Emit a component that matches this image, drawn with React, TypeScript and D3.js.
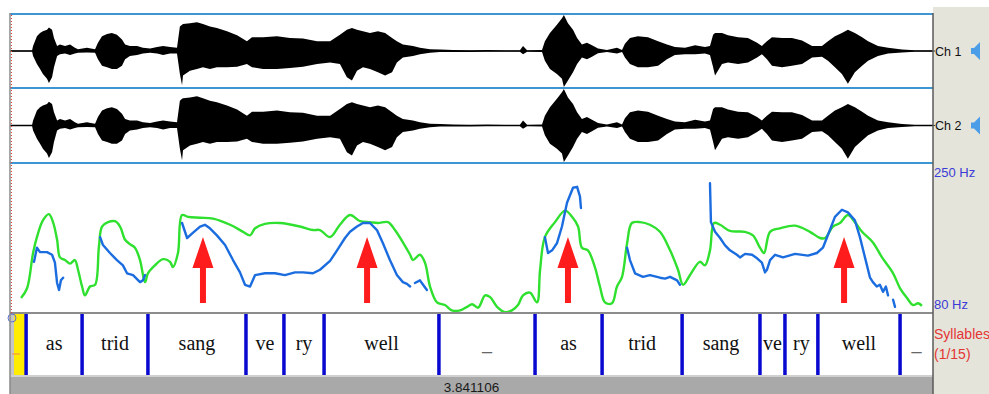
import React, { useEffect, useRef } from 'react';
import * as d3 from 'd3';

// Sound + pitch + syllable tier view (Praat-like)
const DURATION = 3.841106;
const channelNames = ['Ch 1', 'Ch 2'];
const pitchRange = [80, 250];

// waveform envelope: [time (s), upper amplitude, lower amplitude], amplitudes relative to full scale
const envelope: [number, number, number][] = [
  [0, 0.02, 0.02], [0.092, 0.02, 0.02], [0.096, 0.14, 0.14], [0.112, 0.41, 0.36], [0.125, 0.5, 0.5],
  [0.137, 0.55, 0.64], [0.154, 0.59, 0.77], [0.162, 0.65, 0.89], [0.175, 0.59, 0.73], [0.183, 0.36, 0.45],
  [0.196, 0.14, 0.14], [0.208, 0.18, 0.09], [0.229, 0.14, 0.07], [0.25, 0.18, 0.11], [0.27, 0.09, 0.07],
  [0.283, 0.05, 0.05], [0.32, 0.09, 0.04], [0.354, 0.05, 0.05], [0.366, 0.23, 0.23], [0.383, 0.41, 0.41],
  [0.404, 0.47, 0.45], [0.424, 0.5, 0.5], [0.445, 0.45, 0.5], [0.466, 0.32, 0.41], [0.479, 0.18, 0.23],
  [0.499, 0.14, 0.14], [0.529, 0.14, 0.11], [0.553, 0.09, 0.07], [0.583, 0.07, 0.05], [0.612, 0.11, 0.07],
  [0.637, 0.14, 0.11], [0.666, 0.11, 0.07], [0.695, 0.09, 0.07], [0.707, 0.68, 0.64], [0.716, 0.73, 0.95],
  [0.72, 0.75, 0.68], [0.749, 0.77, 0.55], [0.778, 0.8, 0.5], [0.803, 0.75, 0.45], [0.832, 0.68, 0.5],
  [0.861, 0.64, 0.45], [0.903, 0.55, 0.45], [0.945, 0.44, 0.44], [0.986, 0.27, 0.36], [1.007, 0.38, 0.45],
  [1.053, 0.38, 0.5], [1.111, 0.41, 0.5], [1.165, 0.36, 0.47], [1.219, 0.35, 0.44], [1.278, 0.27, 0.36],
  [1.332, 0.27, 0.32], [1.373, 0.45, 0.36], [1.402, 0.59, 0.73], [1.423, 0.64, 0.82], [1.444, 0.59, 0.55],
  [1.469, 0.55, 0.45], [1.498, 0.5, 0.5], [1.531, 0.55, 0.59], [1.561, 0.5, 0.68], [1.59, 0.36, 0.59],
  [1.61, 0.27, 0.32], [1.635, 0.18, 0.18], [1.677, 0.14, 0.14], [1.706, 0.09, 0.09], [1.748, 0.05, 0.05],
  [1.789, 0.04, 0.03], [1.844, 0.03, 0.03], [1.914, 0.02, 0.03], [1.985, 0.03, 0.02], [2.06, 0.02, 0.02],
  [2.122, 0.02, 0.02], [2.135, 0.14, 0.09], [2.152, 0.02, 0.02], [2.214, 0.03, 0.03], [2.226, 0.27, 0.27],
  [2.247, 0.5, 0.5], [2.276, 0.73, 0.64], [2.297, 0.91, 0.77], [2.305, 1.0, 1.0], [2.322, 0.77, 0.82],
  [2.343, 0.59, 0.59], [2.36, 0.36, 0.36], [2.38, 0.18, 0.18], [2.401, 0.23, 0.23], [2.422, 0.16, 0.16],
  [2.447, 0.07, 0.06], [2.484, 0.03, 0.03], [2.526, 0.09, 0.07], [2.547, 0.03, 0.03], [2.559, 0.2, 0.18],
  [2.58, 0.36, 0.36], [2.613, 0.41, 0.45], [2.655, 0.38, 0.45], [2.697, 0.27, 0.41], [2.734, 0.18, 0.23],
  [2.767, 0.11, 0.11], [2.809, 0.09, 0.09], [2.851, 0.16, 0.09], [2.892, 0.11, 0.07], [2.913, 0.14, 0.11],
  [2.926, 0.45, 0.45], [2.934, 0.5, 0.68], [2.963, 0.5, 0.36], [2.988, 0.44, 0.32], [3.03, 0.38, 0.36],
  [3.071, 0.36, 0.32], [3.109, 0.23, 0.18], [3.129, 0.14, 0.09], [3.15, 0.27, 0.23], [3.171, 0.38, 0.41],
  [3.213, 0.36, 0.45], [3.254, 0.36, 0.41], [3.296, 0.29, 0.36], [3.338, 0.14, 0.18], [3.379, 0.14, 0.16],
  [3.404, 0.27, 0.27], [3.433, 0.41, 0.45], [3.462, 0.5, 0.64], [3.487, 0.59, 0.91], [3.516, 0.5, 0.59],
  [3.546, 0.38, 0.41], [3.571, 0.27, 0.27], [3.612, 0.14, 0.14], [3.654, 0.09, 0.07], [3.712, 0.04, 0.04],
  [3.766, 0.02, 0.02], [3.841, 0.02, 0.02],
];

// green contour: [time (s), Hz]
const greenContour: [number, number][] = [
  [0.046, 97], [0.071, 108], [0.096, 148], [0.112, 166], [0.137, 185], [0.162, 192], [0.179, 183],
  [0.196, 163], [0.208, 143], [0.229, 140], [0.25, 136], [0.27, 140], [0.283, 129], [0.3, 110],
  [0.312, 100], [0.333, 110], [0.354, 112], [0.37, 155], [0.383, 178], [0.408, 183], [0.437, 184],
  [0.458, 178], [0.479, 163], [0.499, 158], [0.52, 154], [0.541, 140], [0.562, 115], [0.574, 125],
  [0.603, 134], [0.637, 141], [0.666, 138], [0.678, 132], [0.699, 148], [0.716, 191], [0.741, 189],
  [0.791, 188], [0.845, 187], [0.916, 180], [0.97, 172], [0.999, 168], [1.02, 176], [1.061, 181],
  [1.124, 182], [1.207, 178], [1.261, 174], [1.29, 174], [1.332, 166], [1.373, 180], [1.415, 191],
  [1.457, 184], [1.498, 183], [1.531, 182], [1.573, 183], [1.602, 174], [1.635, 160], [1.665, 146],
  [1.677, 140], [1.706, 146], [1.727, 137], [1.748, 110], [1.777, 92], [1.81, 89], [1.839, 83],
  [1.873, 83], [1.902, 87], [1.923, 90], [1.948, 86], [1.977, 100], [1.998, 98], [2.027, 87],
  [2.06, 81], [2.089, 83], [2.114, 89], [2.135, 100], [2.164, 103], [2.193, 92], [2.206, 129],
  [2.226, 166], [2.268, 183], [2.31, 196], [2.339, 189], [2.364, 178], [2.38, 154], [2.405, 151],
  [2.434, 132], [2.455, 110], [2.476, 92], [2.505, 91], [2.526, 110], [2.547, 121], [2.568, 159],
  [2.588, 182], [2.622, 183], [2.663, 180], [2.705, 172], [2.747, 151], [2.78, 129], [2.801, 112],
  [2.83, 123], [2.871, 138], [2.892, 134], [2.913, 151], [2.93, 182], [2.955, 180], [2.996, 173],
  [3.059, 172], [3.092, 168], [3.121, 154], [3.138, 148], [3.163, 172], [3.204, 176], [3.267, 179],
  [3.329, 172], [3.371, 165], [3.392, 165], [3.425, 178], [3.454, 182], [3.487, 191], [3.516, 183],
  [3.546, 172], [3.591, 160], [3.629, 143], [3.675, 125], [3.704, 108], [3.733, 97], [3.758, 89],
  [3.779, 91], [3.795, 88],
];

// blue contour (voiced stretches): [time (s), Hz]
const blueContour: [number, number][][] = [
  [[0.1, 138], [0.112, 154], [0.125, 149], [0.154, 149], [0.175, 146], [0.187, 137], [0.196, 114],
    [0.204, 106], [0.212, 117], [0.221, 120]],
  [[0.375, 166], [0.387, 157], [0.416, 148], [0.445, 140], [0.47, 134], [0.487, 125], [0.512, 123],
    [0.541, 115], [0.553, 117], [0.562, 123]],
  [[0.716, 182], [0.737, 165], [0.762, 171], [0.791, 178], [0.811, 180], [0.832, 176], [0.861, 168],
    [0.895, 157], [0.928, 140], [0.957, 126], [0.978, 112], [0.999, 110], [1.02, 123], [1.061, 125],
    [1.103, 125], [1.144, 123], [1.186, 126], [1.219, 126], [1.261, 125], [1.29, 129], [1.332, 139],
    [1.361, 151], [1.394, 165], [1.415, 172], [1.444, 178], [1.469, 182], [1.498, 182], [1.527, 174],
    [1.552, 159], [1.581, 140], [1.61, 123], [1.635, 115], [1.652, 113], [1.665, 110]],
  [[1.685, 114], [1.706, 117], [1.719, 112], [1.735, 106]],
  [[2.226, 166], [2.239, 148], [2.256, 151], [2.276, 159], [2.297, 178], [2.318, 205], [2.343, 222],
    [2.36, 223], [2.372, 212], [2.376, 199]],
  [[2.568, 154], [2.58, 140], [2.601, 125], [2.634, 121], [2.663, 123], [2.705, 120], [2.726, 119],
    [2.747, 121], [2.776, 117], [2.788, 112]],
  [[2.913, 227], [2.917, 183], [2.934, 172], [2.955, 165], [2.975, 157], [2.996, 151], [3.025, 146],
    [3.038, 143], [3.059, 147], [3.088, 146], [3.109, 142], [3.129, 137], [3.142, 126], [3.15, 129],
    [3.163, 140], [3.184, 146], [3.217, 143], [3.267, 147], [3.321, 145], [3.358, 148], [3.383, 154],
    [3.412, 174], [3.433, 189], [3.462, 197], [3.487, 194], [3.516, 185], [3.537, 166], [3.558, 143],
    [3.579, 120], [3.591, 115], [3.607, 110], [3.62, 112], [3.633, 104], [3.645, 110], [3.654, 100]],
  [[3.675, 95], [3.683, 87]],
];

// accent markers (s)
const arrowTimes = [0.803, 1.486, 2.322, 3.471];

// syllable tier
const boundaryTimes = [0.067, 0.3, 0.574, 0.982, 1.14, 1.307, 1.785, 2.185, 2.464, 2.797, 3.121, 3.225, 3.362, 3.704];
const syllables = ['as', 'trid', 'sang', 've', 'ry', 'well', '_', 'as', 'trid', 'sang', 've', 'ry', 'well', '_'];
const tierName = 'Syllables';
const tierIndex = '(1/15)';

const W = 989;
const H = 394;

export default function App() {
  const ref = useRef<SVGSVGElement>(null);

  useEffect(() => {
    if (!ref.current) return;
    const svg = d3.select(ref.current);
    svg.selectAll('*').remove();

    const left = 10;
    const right = 933;
    const chTop = [14, 88];
    const chBottom = [88, 163];
    const pitchTop = 163;
    const pitchBottom = 313;
    const tierTop = 313;
    const tierBottom = 376;
    const sans = 'Liberation Sans, Arial, sans-serif';

    const x = d3.scaleLinear().domain([0, DURATION]).range([left, right]);

    svg.append('rect').attr('width', W).attr('height', H).attr('fill', '#fff');
    // right-hand label strip
    svg.append('rect').attr('x', right).attr('y', 7).attr('width', W - right).attr('height', H - 7).attr('fill', '#e4e4da');

    // waveforms
    channelNames.forEach((name, i) => {
      const y = d3.scaleLinear().domain([-1, 1]).range([chBottom[i] - 1, chTop[i] + 1]);
      const area = d3.area<[number, number, number]>()
        .x(d => x(d[0]))
        .y0(d => y(-d[2]))
        .y1(d => y(d[1]));
      svg.append('line')
        .attr('x1', left).attr('x2', right + 2)
        .attr('y1', y(0)).attr('y2', y(0))
        .attr('stroke', '#333').attr('stroke-width', 1);
      svg.append('path').datum(envelope).attr('d', area).attr('fill', '#000');

      svg.append('text')
        .attr('x', right + 2).attr('y', y(0) + 4.5)
        .attr('font-family', sans).attr('font-size', 12.5)
        .attr('fill', '#111').text(name);

      // speaker icon
      const cy = y(0);
      svg.append('path')
        .attr('d', `M971,${cy - 3} h3 l6,-6 v18 l-6,-6 h-3 z`)
        .attr('fill', '#4b9de8');
    });

    // panel separators
    [14, 88, 163].forEach(yy => {
      svg.append('line')
        .attr('x1', left).attr('x2', right)
        .attr('y1', yy).attr('y2', yy)
        .attr('stroke', '#3d96d2').attr('stroke-width', 2);
    });

    // pitch panel
    const yP = d3.scaleLinear().domain(pitchRange).range([pitchBottom, pitchTop]);
    const line = d3.line<[number, number]>()
      .x(d => x(d[0]))
      .y(d => yP(d[1]));

    svg.append('path').datum(greenContour)
      .attr('d', line.curve(d3.curveCatmullRom.alpha(0.5)))
      .attr('fill', 'none').attr('stroke', '#2fe02f').attr('stroke-width', 2.4)
      .attr('stroke-linejoin', 'round');

    const blueLine = d3.line<[number, number]>().x(d => x(d[0])).y(d => yP(d[1]));
    blueContour.forEach(seg => {
      svg.append('path').datum(seg)
        .attr('d', blueLine)
        .attr('fill', 'none').attr('stroke', '#1b6ddf').attr('stroke-width', 2.4)
        .attr('stroke-linejoin', 'round').attr('stroke-linecap', 'round');
    });

    // red arrows
    arrowTimes.forEach(t => {
      const cx = x(t);
      svg.append('path')
        .attr('d', `M${cx},237 L${cx + 10.5},268 L${cx + 3},268 L${cx + 3},303 L${cx - 3},303 L${cx - 3},268 L${cx - 10.5},268 Z`)
        .attr('fill', '#ff1c1c');
    });

    svg.append('text')
      .attr('x', right + 1).attr('y', pitchTop + 14)
      .attr('font-family', sans).attr('font-size', 13)
      .attr('fill', '#3b3bd6').text(`${pitchRange[1]} Hz`);
    svg.append('text')
      .attr('x', right + 1).attr('y', pitchBottom - 4)
      .attr('font-family', sans).attr('font-size', 13)
      .attr('fill', '#3b3bd6').text(`${pitchRange[0]} Hz`);

    // pitch/tier border
    svg.append('line')
      .attr('x1', left).attr('x2', right)
      .attr('y1', tierTop).attr('y2', tierTop)
      .attr('stroke', '#8c8c8c').attr('stroke-width', 2);

    // tier
    svg.append('rect').attr('x', left).attr('y', tierTop + 1).attr('width', 4).attr('height', tierBottom - tierTop - 1).attr('fill', '#c6c6c6');
    svg.append('rect').attr('x', left + 4).attr('y', tierTop + 1).attr('width', 11).attr('height', tierBottom - tierTop - 1).attr('fill', '#ffec00');
    svg.append('circle').attr('cx', 12).attr('cy', 318).attr('r', 4)
      .attr('fill', 'none').attr('stroke', '#5b6fd0').attr('stroke-width', 1);
    svg.append('line').attr('x1', 12).attr('x2', 20).attr('y1', 354).attr('y2', 354)
      .attr('stroke', '#f08a4a').attr('stroke-width', 1);

    const edges = [...boundaryTimes, DURATION];
    syllables.forEach((s, i) => {
      const cx = (x(edges[i]) + x(edges[i + 1])) / 2;
      svg.append('text')
        .attr('x', cx).attr('y', 350)
        .attr('text-anchor', 'middle')
        .attr('font-family', 'Liberation Serif, Times New Roman, serif')
        .attr('font-size', 20)
        .attr('fill', s === '_' ? '#666' : '#111')
        .text(s);
    });
    boundaryTimes.forEach(t => {
      svg.append('line')
        .attr('x1', x(t)).attr('x2', x(t))
        .attr('y1', tierTop + 1).attr('y2', tierBottom)
        .attr('stroke', '#0808d0').attr('stroke-width', 3.5);
    });

    svg.append('text')
      .attr('x', right + 1).attr('y', 339)
      .attr('font-family', sans).attr('font-size', 14)
      .attr('fill', '#e53434').text(tierName);
    svg.append('text')
      .attr('x', right + 1).attr('y', 359)
      .attr('font-family', sans).attr('font-size', 14)
      .attr('fill', '#e53434').text(tierIndex);

    // bottom time bar
    svg.append('line')
      .attr('x1', left).attr('x2', right)
      .attr('y1', tierBottom).attr('y2', tierBottom)
      .attr('stroke', '#d0d0d0').attr('stroke-width', 2);
    svg.append('rect').attr('x', left).attr('y', tierBottom + 1).attr('width', right - left).attr('height', H - tierBottom - 1).attr('fill', '#a9a9a9');
    svg.append('text')
      .attr('x', (left + right) / 2).attr('y', 392)
      .attr('text-anchor', 'middle')
      .attr('font-family', sans).attr('font-size', 13.5)
      .attr('fill', '#1a1a1a').text(DURATION.toFixed(6));

    // frame edges
    svg.append('line').attr('x1', left).attr('x2', left).attr('y1', 13).attr('y2', H)
      .attr('stroke', '#8a8a8a').attr('stroke-width', 1.5);
    svg.append('line').attr('x1', right).attr('x2', right).attr('y1', 13).attr('y2', H)
      .attr('stroke', '#5a5a5a').attr('stroke-width', 1.5);

    // cursor
    svg.append('line').attr('x1', 11.5).attr('x2', 11.5).attr('y1', 15).attr('y2', pitchBottom)
      .attr('stroke', '#e04040').attr('stroke-width', 1).attr('stroke-dasharray', '1,2');
  }, []);

  return (
    <svg
      ref={ref}
      width={W}
      height={H}
      style={{ position: 'absolute', left: 0, top: 0, display: 'block' }}
    />
  );
}
